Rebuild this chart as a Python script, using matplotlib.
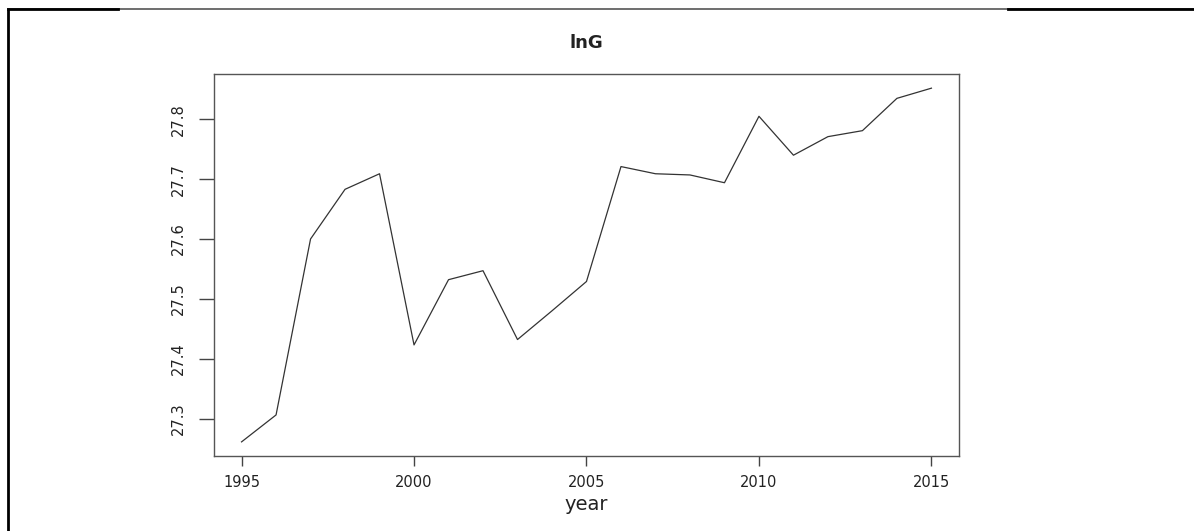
import matplotlib.pyplot as plt
from matplotlib.lines import Line2D

# lnG series, yearly
years = list(range(1995, 2016))
lng = [27.261, 27.306, 27.600, 27.683, 27.709, 27.423, 27.532, 27.547,
       27.432, 27.480, 27.529, 27.721, 27.709, 27.707, 27.694, 27.805,
       27.740, 27.771, 27.781, 27.835, 27.852]

xticks = [1995, 2000, 2005, 2010, 2015]
yticks = [27.3, 27.4, 27.5, 27.6, 27.7, 27.8]

plt.rcParams['font.family'] = ['DejaVu Sans']
text_color = '#222222'

fig = plt.figure(figsize=(11.94, 5.31), dpi=100)
ax = fig.add_axes([0.1792, 0.1412, 0.624, 0.7194])

ax.plot(years, lng, color='#333333', lw=0.9)

# R-style 4% padding on both axes
xr = max(years) - min(years)
yr = max(lng) - min(lng)
ax.set_xlim(min(years) - 0.04 * xr, max(years) + 0.04 * xr)
ax.set_ylim(min(lng) - 0.04 * yr, max(lng) + 0.04 * yr)

ax.set_xticks(xticks)
ax.set_xticklabels([str(t) for t in xticks])
ax.set_yticks(yticks)
ax.set_yticklabels([f'{t:.1f}' for t in yticks], rotation=90, va='center')

ax.tick_params(axis='x', length=7, width=1, pad=7, labelsize=10.5,
               colors='#444444', labelcolor=text_color)
ax.tick_params(axis='y', length=11, width=1, pad=9, labelsize=10.5,
               colors='#444444', labelcolor=text_color)
for s in ax.spines.values():
    s.set_color('#555555')
    s.set_linewidth(1)

ax.set_xlabel('year', fontsize=14, color=text_color, labelpad=3)
ax.set_title('lnG', fontsize=13, fontweight='bold', color=text_color, pad=19)

# outer frame lines
fig.add_artist(Line2D([8 / 1194, 8 / 1194], [0, 1 - 9 / 531],
                      transform=fig.transFigure, color='black', lw=2))
fig.add_artist(Line2D([8 / 1194, 1], [1 - 9 / 531, 1 - 9 / 531],
                      transform=fig.transFigure, color='#555555', lw=1.2))
fig.add_artist(Line2D([8 / 1194, 118 / 1194], [1 - 9 / 531, 1 - 9 / 531],
                      transform=fig.transFigure, color='black', lw=2))
fig.add_artist(Line2D([1008 / 1194, 1], [1 - 9 / 531, 1 - 9 / 531],
                      transform=fig.transFigure, color='black', lw=2))

fig.savefig('out.png', dpi=100)
